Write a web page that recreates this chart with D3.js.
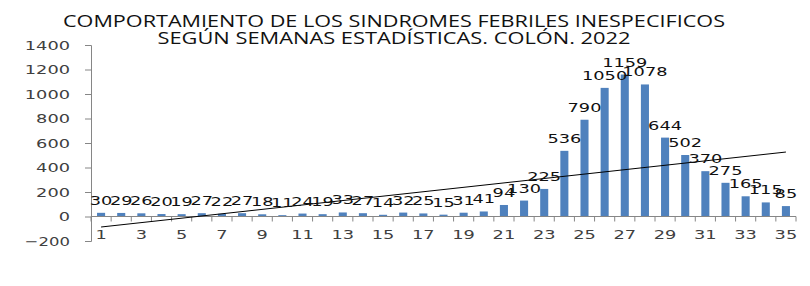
<!DOCTYPE html>
<html>
<head>
<meta charset="utf-8">
<script src="https://cdn.jsdelivr.net/npm/d3@7"></script>
<style>
  body { margin: 0; background: #fff; }
  svg { display: block; }
  .title { font-family: "Open Sans", sans-serif; font-size: 15.5px; fill: #111; }
  .tick text { font-family: "DejaVu Sans", sans-serif; font-size: 13px; fill: #404040; }
  .lbl { font-family: "DejaVu Sans", sans-serif; font-size: 13px; fill: #111; }
</style>
</head>
<body>
<svg width="810" height="286"></svg>
<script>
var width = 810;
var height = 286;

// weeks 1..35
var weeks = d3.range(1, 36);
var cases = [30, 29, 26, 20, 19, 27, 22, 27, 18, 11,
             24, 19, 33, 27, 14, 32, 25, 15, 31, 41,
             94, 130, 225, 536, 790, 1050, 1159, 1078, 644, 502,
             370, 275, 165, 115, 85];
var yTicks = [-200, 0, 200, 400, 600, 800, 1000, 1200, 1400];
var titleLines = ["COMPORTAMIENTO DE LOS SINDROMES FEBRILES INESPECIFICOS",
                  "SEGÚN SEMANAS ESTADÍSTICAS. COLÓN. 2022"];

var svg = d3.select("svg");

// the source picture is stretched sideways, so digits are widened
var digitW = 11.3;
function widen(sel) {
  sel.attr("textLength", function () { return this.textContent.length * digitW; })
     .attr("lengthAdjust", "spacingAndGlyphs");
}

var x = d3.scaleBand()
  .domain(weeks)
  .range([91, 796])
  .paddingInner(0.6)
  .paddingOuter(0.3);

var y = d3.scaleLinear()
  .domain([-200, 1400])
  .range([241, 45]);

// title
svg.selectAll(".title")
  .data(titleLines).enter()
  .append("text")
  .attr("class", "title")
  .attr("x", 394)
  .attr("y", function (d, i) { return 27 + i * 17; })
  .attr("text-anchor", "middle")
  .attr("textLength", function (d, i) { return i === 0 ? 662 : 473; })
  .attr("lengthAdjust", "spacingAndGlyphs")
  .text(function (d) { return d; });

// y axis
var yAxis = svg.append("g")
  .attr("transform", "translate(91,0)")
  .call(d3.axisLeft(y).tickValues(yTicks).tickFormat(d3.format("d"))
    .tickSize(6).tickSizeOuter(6).tickPadding(15));
yAxis.select(".domain").attr("stroke", "#868686");
yAxis.selectAll(".tick line").attr("stroke", "#868686");
yAxis.selectAll(".tick text").call(widen);

// bars
svg.selectAll("rect.bar")
  .data(cases).enter()
  .append("rect")
  .attr("class", "bar")
  .attr("x", function (d, i) { return x(weeks[i]); })
  .attr("width", x.bandwidth())
  .attr("y", function (d) { return y(d); })
  .attr("height", function (d) { return y(0) - y(d); })
  .attr("fill", "#4f81bd");

// x axis on zero
var xAxis = svg.append("g")
  .attr("transform", "translate(0," + y(0) + ")");
xAxis.append("line")
  .attr("x1", 91).attr("x2", 796)
  .attr("stroke", "#868686");
xAxis.selectAll("line.tk")
  .data(d3.range(0, 36)).enter()
  .append("line")
  .attr("class", "tk")
  .attr("x1", function (d) { return 91 + d * x.step(); })
  .attr("x2", function (d) { return 91 + d * x.step(); })
  .attr("y1", 0).attr("y2", 5)
  .attr("stroke", "#868686");
xAxis.selectAll("text")
  .data(weeks.filter(function (w) { return w % 2 === 1; })).enter()
  .append("text")
  .attr("class", "lbl")
  .style("fill", "#404040")
  .attr("x", function (d) { return x(d) + x.bandwidth() / 2; })
  .attr("y", 22)
  .attr("text-anchor", "middle")
  .text(function (d) { return d; })
  .call(widen);

// linear trend line (least squares)
var mx = d3.mean(weeks), my = d3.mean(cases);
var sxy = d3.sum(weeks, function (w, i) { return (w - mx) * (cases[i] - my); });
var sxx = d3.sum(weeks, function (w) { return (w - mx) * (w - mx); });
var slope = sxy / sxx, icpt = my - slope * mx;
svg.append("line")
  .attr("x1", x(1) + x.bandwidth() / 2)
  .attr("y1", y(icpt + slope * 1))
  .attr("x2", x(35) + x.bandwidth() / 2)
  .attr("y2", y(icpt + slope * 35))
  .attr("stroke", "#000")
  .attr("stroke-width", 1);

// data labels
svg.selectAll("text.val")
  .data(cases).enter()
  .append("text")
  .attr("class", "lbl val")
  .attr("x", function (d, i) { return x(weeks[i]) + x.bandwidth() / 2; })
  .attr("y", function (d) { return y(d) - 8; })
  .attr("text-anchor", "middle")
  .text(function (d) { return d; })
  .call(widen);
</script>
</body>
</html>
